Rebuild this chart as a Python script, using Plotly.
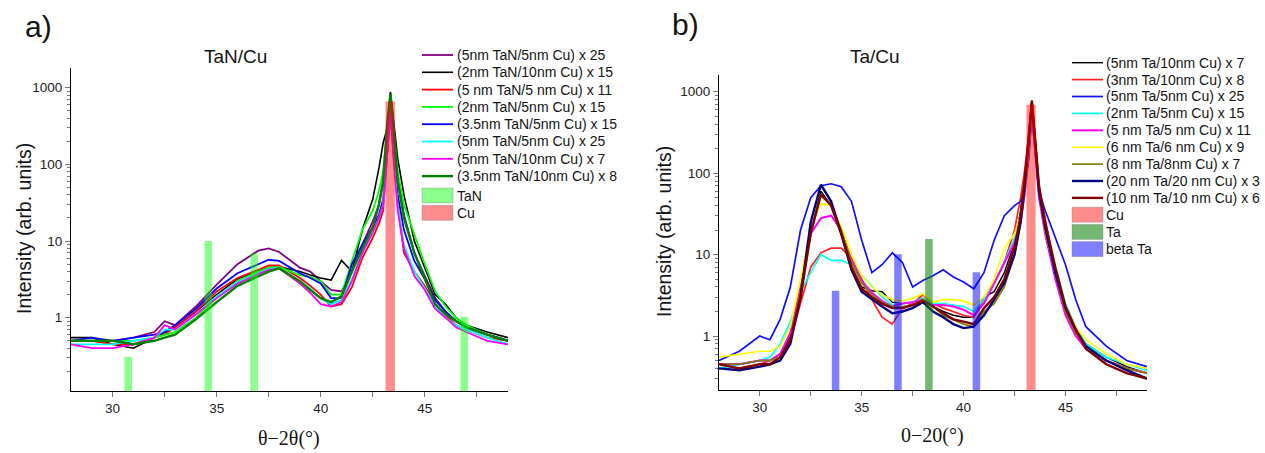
import plotly.graph_objects as go

# ---- panel a) TaN/Cu ----
tan_x = [28, 29, 30, 31, 32, 32.5, 33, 34, 35, 36, 37, 37.5, 38, 39, 39.5, 40, 40.5, 41, 41.5,
         42, 42.5, 42.8, 43.0, 43.2, 43.35, 43.5, 43.7, 44.0, 44.5, 45, 45.5, 46, 46.5, 47, 48, 49]

tan5_cu5_x25 = [0.5, 0.5, 0.5, 0.55, 0.65, 0.9, 0.8, 1.4, 2.7, 5.0, 7.5, 8.0, 7.2, 4.5, 4.0, 3.0, 2.3, 2.2, 4.0,
                9, 18, 30, 60, 250, 600, 250, 70, 22, 7, 3.5, 1.8, 1.2, 0.9, 0.75, 0.6, 0.5]
tan2_cu10_x15 = [0.55, 0.55, 0.45, 0.4, 0.55, 0.65, 0.75, 1.2, 2.0, 3.2, 4.0, 4.5, 4.6, 4.0, 3.6, 3.3, 3.1, 5.6, 4.0,
                 14, 35, 90, 190, 300, 880, 350, 120, 40, 10, 4.5, 2.0, 1.5, 1.0, 0.8, 0.65, 0.55]
tan5_cu5_x11 = [0.5, 0.5, 0.45, 0.45, 0.55, 0.6, 0.75, 1.2, 2.2, 3.3, 4.2, 4.8, 4.8, 3.3, 2.6, 2.0, 1.4, 1.5, 2.5,
                6, 11, 17, 25, 120, 500, 150, 30, 7, 4, 2.6, 1.5, 1.1, 0.8, 0.7, 0.55, 0.5]
tan2_cu5_x15 = [0.5, 0.5, 0.5, 0.5, 0.55, 0.6, 0.65, 1.0, 1.8, 3.0, 4.0, 4.5, 4.6, 3.6, 3.4, 3.0, 2.0, 2.0, 5.5,
                14, 25, 45, 80, 300, 720, 300, 80, 30, 12, 5, 2.2, 1.4, 1.0, 0.8, 0.6, 0.5]
tan35_cu5_x15 = [0.5, 0.55, 0.5, 0.55, 0.6, 0.65, 0.8, 1.3, 2.4, 3.8, 5.0, 5.7, 5.5, 3.8, 3.3, 2.8, 1.8, 1.8, 5.0,
                 9, 15, 22, 35, 150, 450, 150, 40, 14, 5.5, 3.2, 1.7, 1.2, 0.9, 0.75, 0.6, 0.5]
tan5_cu5_x25b = [0.45, 0.45, 0.45, 0.5, 0.55, 0.7, 0.7, 1.1, 1.9, 2.9, 3.8, 4.3, 4.5, 3.0, 2.4, 1.8, 1.5, 1.7, 3.2,
                 7, 13, 20, 30, 150, 480, 130, 28, 9, 4, 2.4, 1.4, 1.0, 0.8, 0.7, 0.55, 0.45]
tan5_cu10_x7 = [0.45, 0.4, 0.4, 0.45, 0.55, 0.8, 0.7, 1.1, 1.8, 2.8, 3.7, 4.2, 4.4, 2.8, 2.1, 1.5, 1.4, 1.6, 3.0,
                7, 13, 20, 30, 150, 500, 120, 25, 8, 3.5, 2.3, 1.3, 1.0, 0.75, 0.65, 0.5, 0.45]
tan35_cu10_x8 = [0.5, 0.5, 0.5, 0.45, 0.5, 0.55, 0.6, 0.95, 1.6, 2.6, 3.5, 4.0, 4.4, 3.0, 2.3, 1.8, 1.6, 1.9, 4.0,
                 8, 15, 30, 60, 350, 830, 300, 60, 20, 7, 3.2, 1.5, 1.1, 0.9, 0.75, 0.6, 0.5]

tan_peak_x = [30.75, 34.6, 36.8, 46.9]
tan_peak_y = [0.31, 10, 6.9, 1.03]
cu_peak_a_x = [43.34]
cu_peak_a_y = [660]

# ---- panel b) Ta/Cu ----
ta_x = [28, 29, 30, 30.5, 31, 31.5, 32, 32.5, 33, 33.5, 34, 34.5, 35, 35.5, 36, 36.5, 37, 37.5, 38, 38.5,
        39, 39.5, 40, 40.5, 41, 41.5, 42, 42.5, 42.8, 43.0, 43.2, 43.35, 43.5, 43.7, 44.0, 44.5, 45, 45.5,
        46, 47, 48, 49]

ta5_cu10_x7 = [0.45, 0.45, 0.5, 0.5, 0.6, 1.0, 3.5, 18, 60, 40, 18, 7, 4.0, 3.6, 3.5, 2.6, 2.5, 2.6, 2.9, 2.3,
               2.0, 1.8, 1.7, 1.7, 3.0, 3.5, 6, 14, 35, 90, 250, 780, 250, 60, 25, 6, 2.2, 1.2, 0.8, 0.55, 0.42, 0.35]
ta3_cu10_x8 = [0.45, 0.4, 0.45, 0.5, 0.6, 0.9, 2.5, 7, 10.5, 12, 12, 9, 5, 2.8, 1.7, 1.4, 2.2, 2.5, 3.2, 2.5,
               2.2, 2.0, 1.8, 1.7, 2.8, 4.5, 8, 20, 50, 110, 300, 760, 300, 70, 28, 6, 2.0, 1.1, 0.7, 0.5, 0.4, 0.35]
ta5_cu5_x25 = [0.5, 0.65, 1.0, 0.9, 1.6, 4, 20, 50, 70, 74, 68, 45, 15, 6, 7.5, 10.5, 8, 4.0, 4.8, 5.5,
               6.5, 5.3, 4.6, 3.8, 6, 15, 30, 40, 45, 60, 150, 500, 200, 60, 35, 16, 7.5, 2.8, 1.3, 0.75, 0.5, 0.42]
ta2_cu5_x15 = [0.4, 0.45, 0.5, 0.55, 0.8, 1.5, 3.5, 6, 10, 8.5, 8.5, 7.5, 5.5, 4, 3, 2.4, 2.5, 2.6, 2.9, 2.5,
               2.5, 2.4, 2.3, 2.0, 2.8, 4.5, 8, 16, 30, 60, 200, 650, 250, 60, 20, 7, 2.5, 1.3, 0.8, 0.55, 0.45, 0.38]
ta5_cu5_x11 = [0.45, 0.45, 0.5, 0.5, 0.6, 1.1, 4, 18, 28, 30, 20, 9, 4.8, 3.4, 2.7, 2.3, 2.5, 2.6, 2.8, 2.4,
               2.4, 2.3, 2.1, 1.8, 2.5, 4.5, 8, 14, 25, 55, 200, 600, 200, 50, 18, 5, 1.8, 1.0, 0.7, 0.5, 0.4, 0.35]
ta6_cu6_x9 = [0.55, 0.6, 0.65, 0.65, 0.75, 1.3, 5, 22, 42, 40, 22, 10, 5.5, 4, 3.2, 2.8, 2.7, 2.9, 3.3, 2.6,
              2.8, 2.8, 2.7, 2.4, 3.0, 5, 12, 18, 30, 70, 220, 650, 250, 60, 20, 6, 2.3, 1.3, 0.9, 0.6, 0.45, 0.4]
ta8_cu8_x7 = [0.45, 0.45, 0.5, 0.5, 0.55, 0.9, 3.5, 20, 52, 42, 20, 8, 4.5, 3.2, 2.6, 2.3, 2.3, 2.4, 2.8, 2.3,
              1.8, 1.6, 1.4, 1.3, 2.0, 2.5, 4, 10, 25, 60, 200, 700, 250, 60, 20, 6, 2.0, 1.1, 0.75, 0.5, 0.4, 0.35]
ta20_cu20_x3 = [0.4, 0.38, 0.42, 0.45, 0.5, 0.8, 3, 25, 72, 45, 18, 6.5, 3.5, 2.8, 2.3, 1.9, 2.0, 2.2, 2.6, 2.0,
                1.7, 1.4, 1.25, 1.3, 1.8, 2.8, 4.5, 10, 25, 70, 250, 720, 250, 60, 22, 6, 2.2, 1.2, 0.75, 0.5, 0.38, 0.3]
ta10_cu10_x6 = [0.45, 0.4, 0.45, 0.45, 0.55, 0.9, 3, 18, 55, 40, 18, 7, 3.8, 3.0, 2.5, 2.2, 2.2, 2.4, 2.7, 2.3,
                1.9, 1.6, 1.5, 1.4, 2.2, 3.0, 5, 12, 30, 80, 280, 780, 280, 70, 25, 7, 2.3, 1.2, 0.7, 0.45, 0.35, 0.3]

cu_peak_b_x = [43.31]
cu_peak_b_y = [690]
ta_peak_x = [38.3]
ta_peak_y = [15.5]
beta_ta_peak_x = [33.72, 36.78, 40.63]
beta_ta_peak_y = [3.6, 10.1, 6.05]

FONT = 'Arial, Liberation Sans, sans-serif'
SERIF = 'Times New Roman, Liberation Serif, serif'
TEXT = '#141414'

W, H = 1265, 453


def px_x(a, b):
    return [a / W, b / W]


def px_y(top, bottom):
    return [1 - bottom / H, 1 - top / H]


def legend_line(fig, x0, x1, y, color, width):
    fig.add_shape(type='line', xref='paper', yref='paper', x0=x0 / W, x1=x1 / W,
                  y0=1 - y / H, y1=1 - y / H, line=dict(color=color, width=width))


def legend_box(fig, x0, x1, y, color):
    fig.add_shape(type='rect', xref='paper', yref='paper', x0=x0 / W, x1=x1 / W,
                  y0=1 - (y + 7.5) / H, y1=1 - (y - 7.5) / H,
                  fillcolor=color, line=dict(color='rgba(120,120,120,0.35)', width=1))


def legend_text(fig, x, y, text):
    fig.add_annotation(text=text, x=x / W, y=1 - y / H, xref='paper', yref='paper',
                       xanchor='left', yanchor='middle', showarrow=False,
                       font=dict(family=FONT, size=14, color=TEXT))


def main():
    fig = go.Figure()

    tan_lines = [
        ('(5nm TaN/5nm Cu) x 25', '#800080', 1.8, tan5_cu5_x25),
        ('(2nm TaN/10nm Cu) x 15', '#000000', 1.6, tan2_cu10_x15),
        ('(5 nm TaN/5 nm Cu) x 11', '#ff0000', 1.8, tan5_cu5_x11),
        ('(2nm TaN/5nm Cu) x 15', '#00ff00', 1.8, tan2_cu5_x15),
        ('(3.5nm TaN/5nm Cu) x 15', '#0000ff', 1.8, tan35_cu5_x15),
        ('(5nm TaN/5nm Cu) x 25', '#00ffff', 1.8, tan5_cu5_x25b),
        ('(5nm TaN/10nm Cu) x 7', '#ff00ff', 1.8, tan5_cu10_x7),
        ('(3.5nm TaN/10nm Cu) x 8', '#008000', 2.4, tan35_cu10_x8),
    ]
    for name, color, width, vals in tan_lines:
        fig.add_trace(go.Scatter(x=tan_x, y=vals, mode='lines', name=name, showlegend=False,
                                 line=dict(color=color, width=width), xaxis='x', yaxis='y'))

    tan_bars = [
        ('TaN', tan_peak_x, tan_peak_y, 0.37, 'rgba(0,255,0,0.45)'),
        ('Cu', cu_peak_a_x, cu_peak_a_y, 0.45, 'rgba(255,0,0,0.45)'),
    ]
    for name, bx, by, bw, color in tan_bars:
        fig.add_trace(go.Bar(x=bx, y=by, width=bw, name=name, showlegend=False,
                             marker=dict(color=color, line=dict(width=0)), xaxis='x3', yaxis='y3'))

    ta_lines = [
        ('(5nm Ta/10nm Cu) x 7', '#000000', 1.4, ta5_cu10_x7),
        ('(3nm Ta/10nm Cu) x 8', '#ff2020', 1.7, ta3_cu10_x8),
        ('(5nm Ta/5nm Cu) x 25', '#1010ff', 1.7, ta5_cu5_x25),
        ('(2nm Ta/5nm Cu) x 15', '#00ffff', 1.7, ta2_cu5_x15),
        ('(5 nm Ta/5 nm Cu) x 11', '#ff00ff', 2.0, ta5_cu5_x11),
        ('(6 nm Ta/6 nm Cu) x 9', '#ffff00', 1.7, ta6_cu6_x9),
        ('(8 nm Ta/8nm Cu) x 7', '#808000', 1.7, ta8_cu8_x7),
        ('(20 nm Ta/20 nm Cu) x 3', '#000080', 2.4, ta20_cu20_x3),
        ('(10 nm Ta/10 nm Cu) x 6', '#800000', 2.4, ta10_cu10_x6),
    ]
    for name, color, width, vals in ta_lines:
        fig.add_trace(go.Scatter(x=ta_x, y=vals, mode='lines', name=name, showlegend=False,
                                 line=dict(color=color, width=width), xaxis='x2', yaxis='y2'))

    ta_bars = [
        ('Cu', cu_peak_b_x, cu_peak_b_y, 0.45, 'rgba(255,0,0,0.45)'),
        ('Ta', ta_peak_x, ta_peak_y, 0.37, 'rgba(0,128,0,0.55)'),
        ('beta Ta', beta_ta_peak_x, beta_ta_peak_y, 0.37, 'rgba(0,0,255,0.5)'),
    ]
    for name, bx, by, bw, color in ta_bars:
        fig.add_trace(go.Bar(x=bx, y=by, width=bw, name=name, showlegend=False,
                             marker=dict(color=color, line=dict(width=0)), xaxis='x4', yaxis='y4'))

    # legends drawn by hand so that row spacing matches the original
    for i, (name, color, width, _) in enumerate(tan_lines):
        y = 55 + 17.3 * i
        legend_line(fig, 422, 453, y, color, width)
        legend_text(fig, 455, y, name)
    for i, (name, _, _, _, color) in enumerate(tan_bars):
        y = 195.5 + 17.3 * i
        legend_box(fig, 422, 453, y, color)
        legend_text(fig, 455, y, name)

    for i, (name, color, width, _) in enumerate(ta_lines):
        y = 62.7 + 16.9 * i
        legend_line(fig, 1072, 1103, y, color, width)
        legend_text(fig, 1104, y, name)
    for i, (name, _, _, _, color) in enumerate(ta_bars):
        y = 214.7 + 17.2 * i
        legend_box(fig, 1072, 1103, y, color)
        legend_text(fig, 1104, y, name)

    tick_font = dict(family=FONT, size=13.5, color='#222')
    xcommon = dict(range=[28, 49], tick0=30, dtick=5, ticks='outside', ticklen=5, tickcolor='#777',
                   showline=True, linecolor='#000', linewidth=1, showgrid=False, zeroline=False,
                   tickfont=tick_font, minor=dict(dtick=2.5, ticks='outside', ticklen=5, tickcolor='#777'))
    ycommon = dict(type='log', dtick=1, ticks='outside', ticklen=5, tickcolor='#777',
                   showline=True, linecolor='#000', linewidth=1, showgrid=False, zeroline=False,
                   tickfont=tick_font, minor=dict(dtick='D1', ticks='outside', ticklen=3, tickcolor='#777'))

    a_yrange = [-0.956, 3.257]
    b_yrange = [-0.663, 3.205]

    fig.update_layout(
        width=W, height=H,
        margin=dict(l=0, r=0, t=0, b=0),
        paper_bgcolor='white', plot_bgcolor='rgba(0,0,0,0)',
        font=dict(family=FONT, size=13, color=TEXT),
        barmode='overlay', showlegend=False,
        xaxis=dict(domain=px_x(71, 508), anchor='y', **xcommon),
        yaxis=dict(domain=px_y(68, 391), anchor='x', range=a_yrange, **ycommon),
        xaxis2=dict(domain=px_x(719, 1147), anchor='y2', **xcommon),
        yaxis2=dict(domain=px_y(75, 390), anchor='x2', range=b_yrange, **ycommon),
        xaxis3=dict(overlaying='x', range=[28, 49], visible=False, anchor='y3'),
        yaxis3=dict(overlaying='y', type='log', range=a_yrange, visible=False, anchor='x3'),
        xaxis4=dict(overlaying='x2', range=[28, 49], visible=False, anchor='y4'),
        yaxis4=dict(overlaying='y2', type='log', range=b_yrange, visible=False, anchor='x4'),
    )

    notes = [
        ('a)', 38, 27, 30, FONT, 0),
        ('b)', 685, 25, 30, FONT, 0),
        ('TaN/Cu', 235, 57, 19, FONT, 0),
        ('Ta/Cu', 875, 57, 19, FONT, 0),
        ('θ−2θ(°)', 289, 438, 20, SERIF, 0),
        ('0−20(°)', 932, 435, 20, SERIF, 0),
        ('Intensity (arb. units)', 24, 229, 19.5, FONT, -90),
        ('Intensity (arb. units)', 664, 232, 19.5, FONT, -90),
    ]
    for text, x, y, size, family, angle in notes:
        fig.add_annotation(text=text, x=x / W, y=1 - y / H, xref='paper', yref='paper',
                           xanchor='center', yanchor='middle', showarrow=False, textangle=angle,
                           font=dict(family=family, size=size, color=TEXT))

    fig.write_html('out.html', config={'displayModeBar': False},
                   post_script="document.body.style.margin='0';")


if __name__ == '__main__':
    main()
